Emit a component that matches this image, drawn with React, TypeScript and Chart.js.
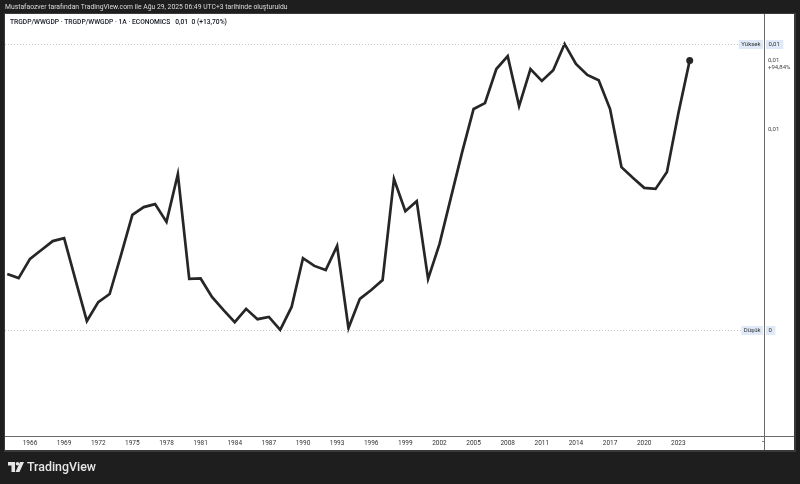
import React, { useEffect, useRef } from "react";
import { Chart, registerables } from "chart.js";

Chart.register(...registerables);

const years: number[] = [
  1964, 1965, 1966, 1967, 1968, 1969, 1970, 1971, 1972, 1973, 1974, 1975, 1976, 1977, 1978, 1979,
  1980, 1981, 1982, 1983, 1984, 1985, 1986, 1987, 1988, 1989, 1990, 1991, 1992, 1993, 1994, 1995,
  1996, 1997, 1998, 1999, 2000, 2001, 2002, 2003, 2004, 2005, 2006, 2007, 2008, 2009, 2010, 2011,
  2012, 2013, 2014, 2015, 2016, 2017, 2018, 2019, 2020, 2021, 2022, 2023, 2024,
];

const ratio: number[] = [
  0.00608, 0.00597, 0.00649, 0.00673, 0.00697, 0.00705, 0.00592, 0.00481, 0.00532, 0.00554, 0.00659, 0.00768,
  0.00789, 0.00797, 0.00749, 0.00878, 0.00595, 0.00596, 0.00546, 0.00511, 0.00478, 0.00514, 0.00486, 0.00492,
  0.00457, 0.00519, 0.00651, 0.0063, 0.00619, 0.00684, 0.00462, 0.00541, 0.00565, 0.00592, 0.00865, 0.00778,
  0.00805, 0.00595, 0.00689, 0.00814, 0.00938, 0.01054, 0.0107, 0.01162, 0.01197, 0.01062, 0.01162, 0.0113,
  0.01159, 0.0123, 0.01176, 0.01146, 0.01132, 0.01054, 0.00897, 0.00868, 0.00841, 0.00838, 0.00884, 0.01042,
  0.01185,
];

const timeTicks: number[] = [1966, 1969, 1972, 1975, 1978, 1981, 1984, 1987, 1990, 1993, 1996, 1999, 2002, 2005, 2008, 2011, 2014, 2017, 2020, 2023];
const priceTicks: number[] = [0.01];
const priceTickLabels: string[] = ["0,01"];

const headerText = "Mustafaozver tarafından TradingView.com ile Ağu 29, 2025 06:49 UTC+3 tarihinde oluşturuldu";
const legendText = "TRGDP/WWGDP · TRGDP/WWGDP · 1A · ECONOMICS";
const legendValues = "0,01  0 (+13,70%)";
const highLabel = "Yüksek";
const lowLabel = "Düşük";
const highValueLabel = "0,01";
const lowValueLabel = "0";
const lastValueLabel = "0,01";
const lastChangeLabel = "+94,84%";

const FONT = "Roboto, 'Open Sans', 'DejaVu Sans', sans-serif";

const framePlugin = {
  id: "tvFrame",
  beforeDraw(chart: any) {
    const ctx = chart.ctx;
    ctx.save();
    ctx.fillStyle = "#1e1e1e";
    ctx.fillRect(0, 0, chart.width, chart.height);
    ctx.fillStyle = "#3a3a3a";
    ctx.fillRect(4, 13, 792, 439);
    ctx.fillStyle = "#ffffff";
    ctx.fillRect(5, 14, 789, 436);
    ctx.fillStyle = "#dcdcdc";
    ctx.font = `6.8px ${FONT}`;
    ctx.textBaseline = "middle";
    ctx.fillText(headerText, 5, 7);
    ctx.restore();
  },
  afterDraw(chart: any) {
    const ctx = chart.ctx;
    const area = chart.chartArea;
    const y = chart.scales.y;
    ctx.save();
    // extend price axis line through the time axis
    ctx.strokeStyle = "#6a6a6a";
    ctx.lineWidth = 1;
    ctx.beginPath();
    ctx.moveTo(area.right + 0.5, area.top);
    ctx.lineTo(area.right + 0.5, 450);
    ctx.moveTo(area.right, area.bottom + 0.5);
    ctx.lineTo(794, area.bottom + 0.5);
    ctx.stroke();

    // legend
    ctx.font = `500 6.7px ${FONT}`;
    ctx.textBaseline = "middle";
    ctx.fillStyle = "#131722";
    ctx.fillText(legendText, 10, 22);
    const w = ctx.measureText(legendText).width;
    ctx.fillText(legendValues, 10 + w + 5, 22);

    // high / low
    const hi = Math.max(...ratio);
    const lo = Math.min(...ratio);
    const drawLevel = (val: number, label: string, vlabel: string) => {
      const py = Math.round(y.getPixelForValue(val)) + 0.5;
      ctx.strokeStyle = "#c4c6cc";
      ctx.setLineDash([1, 2]);
      ctx.beginPath();
      ctx.moveTo(area.left, py);
      ctx.lineTo(area.right - 22, py);
      ctx.stroke();
      ctx.setLineDash([]);
      ctx.font = `6px ${FONT}`;
      const lw = ctx.measureText(label).width;
      ctx.fillStyle = "#dfe9f7";
      ctx.fillRect(area.right - lw - 6, py - 4.5, lw + 5, 9);
      ctx.fillStyle = "#333";
      ctx.textBaseline = "middle";
      ctx.fillText(label, area.right - lw - 3.5, py);
      const vw = ctx.measureText(vlabel).width;
      ctx.fillStyle = "#dfe9f7";
      ctx.fillRect(area.right + 2, py - 4.5, vw + 6, 9);
      ctx.fillStyle = "#333";
      ctx.fillText(vlabel, area.right + 4.5, py);
    };
    drawLevel(hi, highLabel, highValueLabel);
    drawLevel(lo, lowLabel, lowValueLabel);

    // last value label
    const last = ratio[ratio.length - 1];
    const ly = y.getPixelForValue(last);
    ctx.font = `6px ${FONT}`;
    ctx.fillStyle = "#444";
    ctx.textBaseline = "middle";
    ctx.fillText(lastValueLabel, area.right + 4, ly);
    ctx.fillText(lastChangeLabel, area.right + 4, ly + 6.5);

    // small tick mark at time axis corner
    ctx.strokeStyle = "#888";
    ctx.beginPath();
    ctx.moveTo(area.right - 2, 441.5);
    ctx.lineTo(area.right, 441.5);
    ctx.stroke();

    // TradingView logo
    ctx.fillStyle = "#e6e6e6";
    ctx.fillRect(8, 462, 7, 3.5);
    ctx.fillRect(11.5, 462, 3.5, 10);
    ctx.beginPath();
    ctx.arc(17.5, 463.8, 1.8, 0, Math.PI * 2);
    ctx.fill();
    ctx.beginPath();
    ctx.moveTo(20, 462);
    ctx.lineTo(24, 462);
    ctx.lineTo(19.5, 472);
    ctx.lineTo(15.5, 472);
    ctx.closePath();
    ctx.fill();
    ctx.font = `500 12.4px ${FONT}`;
    ctx.textBaseline = "middle";
    ctx.fillText("TradingView", 27, 467.5);
    ctx.restore();
  },
};

export default function App() {
  const ref = useRef<HTMLCanvasElement | null>(null);
  useEffect(() => {
    if (!ref.current) return;
    const data = years.map((yr, i) => ({ x: yr, y: ratio[i] }));
    const chart = new Chart(ref.current, {
      type: "line",
      data: {
        datasets: [
          {
            data,
            borderColor: "#262626",
            borderWidth: 2.7,
            pointRadius: data.map((_, i) => (i === data.length - 1 ? 3.5 : 0)),
            pointBackgroundColor: "#262626",
            pointBorderWidth: 0,
            tension: 0,
            borderJoinStyle: "miter",
          },
        ],
      },
      options: {
        animation: false,
        responsive: false,
        devicePixelRatio: 1,
        layout: { padding: { left: 5, top: 14, right: 6, bottom: 34 } },
        plugins: { legend: { display: false }, tooltip: { enabled: false } },
        scales: {
          x: {
            type: "linear",
            min: 1966 - 25 / 11.374,
            max: 1966 + 734 / 11.374,
            afterFit: (s: any) => {
              s.height = 14;
            },
            afterBuildTicks: (s: any) => {
              s.ticks = timeTicks.map((v) => ({ value: v }));
            },
            grid: { display: false, drawTicks: false },
            border: { display: true, color: "#6a6a6a", width: 1 },
            ticks: {
              autoSkip: false,
              maxRotation: 0,
              padding: 3,
              color: "#333",
              font: { size: 6.5, family: FONT },
              callback: (v: any) => String(v),
            },
          },
          y: {
            position: "right",
            min: 0.01 - 307 / 37000,
            max: 0.01 + 115 / 37000,
            afterFit: (s: any) => {
              s.width = 30;
            },
            afterBuildTicks: (s: any) => {
              s.ticks = priceTicks.map((v) => ({ value: v }));
            },
            grid: { display: false, drawTicks: false },
            border: { display: true, color: "#6a6a6a", width: 1 },
            ticks: {
              padding: 4,
              color: "#444",
              font: { size: 6, family: FONT },
              callback: (v: any) => {
                const i = priceTicks.indexOf(Number(v));
                return i >= 0 ? priceTickLabels[i] : "";
              },
            },
          },
        },
      },
      plugins: [framePlugin],
    } as any);
    return () => chart.destroy();
  }, []);
  return (
    <div style={{ position: "fixed", left: 0, top: 0, width: 800, height: 484 }}>
      <canvas ref={ref} width={800} height={484} style={{ width: 800, height: 484, display: "block" }} />
    </div>
  );
}
